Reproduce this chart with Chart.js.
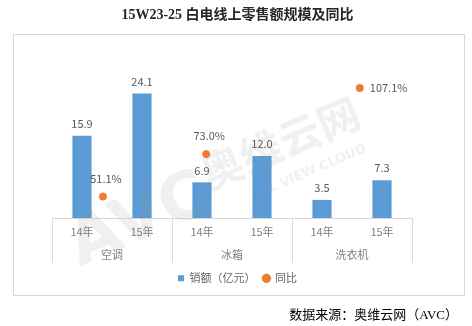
<!DOCTYPE html>
<meta charset="utf-8">
<title>白电线上零售额规模及同比</title>
<style>
  html, body { margin: 0; background: #fff; }
</style>
<canvas id="chart" width="472" height="326"></canvas>
<script src="https://cdn.jsdelivr.net/npm/chart.js@4"></script>
<script>
  const groups = ["空调", "冰箱", "洗衣机"]
  const years = ["14年", "15年", "14年", "15年", "14年", "15年"]
  const sales = [15.9, 24.1, 6.9, 12.0, 3.5, 7.3]
  // 同比 points sit between the bars, x given in bar slots
  const yoy = [51.1, 73.0, 107.1]
  const yoySlot = [0.35, 2.07, 4.63]

  const BLUE = "#5b9bd5"
  const ORANGE = "#ed7d31"
  const LINE = "#d9d9d9"
  const CJK = '"Noto Sans CJK SC", sans-serif'

  Chart.defaults.font.family = CJK
  Chart.defaults.color = "#808080"

  // white page + light border round the plot
  const frame = {
    id: "frame",
    beforeDraw(chart) {
      const { ctx, width, height } = chart
      ctx.save()
      ctx.fillStyle = "#fff"
      ctx.fillRect(0, 0, width, height)
      ctx.strokeStyle = LINE
      ctx.lineWidth = 1
      ctx.strokeRect(13.5, 34.5, 451, 261)
      ctx.restore()
    },
  }

  // faint AVC watermark over the bars
  const watermark = {
    id: "watermark",
    afterDatasetsDraw(chart) {
      const { ctx } = chart
      ctx.save()
      ctx.fillStyle = "rgba(140,140,140,0.13)"
      ctx.translate(140, 222)
      ctx.rotate(-0.4)
      ctx.font = 'bold 66px "DejaVu Sans", sans-serif'
      ctx.textAlign = "center"
      ctx.textBaseline = "middle"
      ctx.fillText("AVC", 0, 0)
      ctx.font = 'bold 42px ' + CJK
      ctx.fillText("奥维云网", 160, -18)
      ctx.font = 'bold 13px "DejaVu Sans", sans-serif'
      ctx.fillText("ALL VIEW CLOUD", 175, 20)
      ctx.restore()
    },
  }

  // value labels above bars and next to the 同比 points
  const valueLabels = {
    id: "valueLabels",
    afterDatasetsDraw(chart) {
      const { ctx } = chart
      ctx.save()
      ctx.font = "11px " + CJK
      ctx.fillStyle = "#595959"
      ctx.textBaseline = "middle"
      chart.getDatasetMeta(0).data.forEach((el, i) => {
        ctx.textAlign = "center"
        ctx.fillText(sales[i].toFixed(1), el.x, el.y - 12)
      })
      chart.getDatasetMeta(1).data.forEach((el, i) => {
        const text = yoy[i].toFixed(1) + "%"
        if (i == yoy.length - 1) {
          ctx.textAlign = "left"
          ctx.fillText(text, el.x + 10, el.y)
        } else {
          ctx.textAlign = "center"
          ctx.fillText(text, el.x + 3, el.y - 18)
        }
      })
      ctx.restore()
    },
  }

  // vertical separators of the two-level category axis
  const groupLines = {
    id: "groupLines",
    afterDraw(chart) {
      const x = chart.scales.x
      const g = chart.scales.group
      const { ctx } = chart
      ctx.save()
      ctx.strokeStyle = LINE
      ctx.lineWidth = 1
      ctx.beginPath()
      for (let i = 0; i <= groups.length; i++) {
        const px = Math.round(g.getPixelForValue(i - 0.5)) + 0.5
        ctx.moveTo(px, x.top)
        ctx.lineTo(px, g.bottom - 2)
      }
      ctx.stroke()
      ctx.restore()
    },
  }

  window.chart = new Chart(document.getElementById("chart"), {
    type: "bar",
    data: {
      labels: years,
      datasets: [
        {
          label: "销额（亿元）",
          data: sales,
          backgroundColor: BLUE,
          pointStyle: "rect",
          grouped: false,
          barPercentage: 0.32,
          categoryPercentage: 1,
          xAxisID: "x",
          yAxisID: "y",
        },
        {
          type: "scatter",
          label: "同比",
          data: yoy.map((v, i) => ({ x: yoySlot[i], y: v })),
          backgroundColor: ORANGE,
          borderColor: ORANGE,
          pointStyle: "circle",
          pointRadius: 3.6,
          xAxisID: "xs",
          yAxisID: "y1",
        },
      ],
    },
    options: {
      responsive: false,
      animation: false,
      events: [],
      layout: { padding: { left: 17, right: 14, top: 0, bottom: 0 } },
      scales: {
        x: {
          type: "category",
          offset: true,
          grid: { display: false, drawTicks: false },
          border: { display: true, color: LINE },
          ticks: { padding: 7, font: { size: 11 }, color: "#808080" },
        },
        group: {
          type: "category",
          axis: "x",
          position: "bottom",
          weight: 1,
          labels: groups,
          offset: true,
          grid: { display: false, drawTicks: false },
          border: { display: false },
          ticks: { padding: 3.2, font: { size: 11 }, color: "#808080" },
        },
        xs: {
          type: "linear",
          axis: "x",
          display: false,
          offset: false,
          min: -0.5,
          max: 5.5,
        },
        y: {
          position: "left",
          min: 0,
          max: 30,
          grid: { display: false },
          border: { display: false },
          ticks: { display: false },
          afterFit: s => { s.width = 35 },
        },
        y1: {
          position: "right",
          min: 40,
          max: 120,
          grid: { display: false },
          border: { display: false },
          ticks: { display: false },
          afterFit: s => { s.width = 46 },
        },
      },
      plugins: {
        title: {
          display: true,
          text: "15W23-25 白电线上零售额规模及同比",
          color: "#262626",
          font: { family: '"Liberation Serif", ' + CJK, size: 14, weight: "bold" },
          padding: { top: 7, bottom: 39.2 },
        },
        subtitle: {
          display: true,
          position: "bottom",
          align: "end",
          text: "数据来源：奥维云网（AVC）",
          color: "#000",
          font: { family: '"Liberation Serif", ' + CJK, size: 13 },
          padding: { top: 14.4, bottom: 2.2 },
        },
        legend: {
          position: "bottom",
          labels: {
            usePointStyle: true,
            boxWidth: 6,
            boxHeight: 6,
            padding: 8,
            font: { size: 11 },
            color: "#666",
          },
        },
        tooltip: { enabled: false },
      },
    },
    plugins: [frame, watermark, valueLabels, groupLines],
  })
</script>
